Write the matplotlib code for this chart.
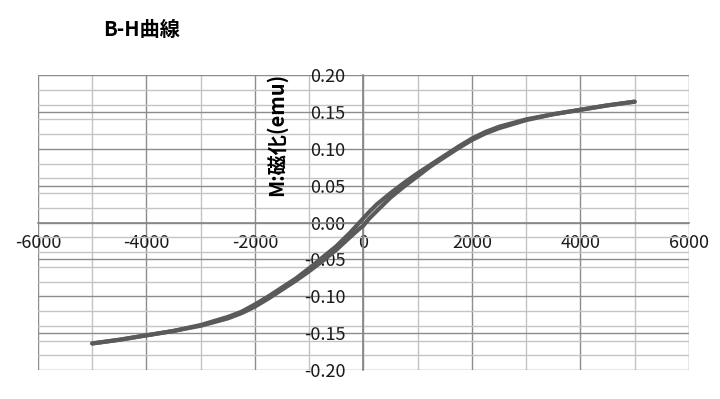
import matplotlib
matplotlib.use("Agg")
import matplotlib.pyplot as plt
from matplotlib.ticker import MultipleLocator, FormatStrFormatter

plt.rcParams["font.family"] = ["Noto Sans CJK JP", "DejaVu Sans"]
plt.rcParams["axes.unicode_minus"] = False

# Upper branch (H swept from +5000 down to -5000)
h_down = [5000, 4500, 4000, 3500, 3000, 2500, 2250, 2000, 1750, 1500, 1250, 1000, 750, 500,
          250, 100, 0, -100, -250, -500, -750, -1000, -1250, -1500, -1750, -2000, -2250,
          -2500, -3000, -3500, -4000, -4500, -5000]
m_down = [0.164, 0.159, 0.153, 0.147, 0.140, 0.130, 0.123, 0.114, 0.103, 0.091, 0.079, 0.067,
          0.054, 0.040, 0.025, 0.014, 0.006, -0.002, -0.014, -0.032, -0.047, -0.062, -0.076,
          -0.088, -0.100, -0.111, -0.121, -0.128, -0.139, -0.147, -0.153, -0.159, -0.164]
# Lower branch (H swept from -5000 back up to +5000)
h_up = [-5000, -4500, -4000, -3500, -3000, -2500, -2250, -2000, -1750, -1500, -1250, -1000,
        -750, -500, -250, -100, 0, 100, 250, 500, 750, 1000, 1250, 1500, 1750, 2000, 2250,
        2500, 3000, 3500, 4000, 4500, 5000]
m_up = [-0.164, -0.159, -0.153, -0.147, -0.140, -0.130, -0.123, -0.114, -0.103, -0.091, -0.079,
        -0.066, -0.052, -0.037, -0.020, -0.010, -0.004, 0.005, 0.016, 0.034, 0.049, 0.063,
        0.077, 0.089, 0.101, 0.112, 0.121, 0.128, 0.139, 0.147, 0.153, 0.159, 0.164]

fig = plt.figure(figsize=(7.2, 3.99), dpi=100)
ax = fig.add_axes([0.0528, 0.0727, 0.904, 0.739])

ax.plot(h_down, m_down, color="#5a5a5a", linewidth=3.0, solid_capstyle="round", zorder=3)
ax.plot(h_up, m_up, color="#5a5a5a", linewidth=3.0, solid_capstyle="round", zorder=3)

ax.set_xlim(-6000, 6000)
ax.set_ylim(-0.20, 0.20)
ax.xaxis.set_major_locator(MultipleLocator(2000))
ax.xaxis.set_minor_locator(MultipleLocator(1000))
ax.yaxis.set_major_locator(MultipleLocator(0.05))
ax.yaxis.set_minor_locator(MultipleLocator(0.02))
ax.yaxis.set_major_formatter(FormatStrFormatter("%.2f"))

ax.grid(which="major", color="#8c8c8c", linewidth=1.0)
ax.grid(which="minor", color="#c4c4c4", linewidth=1.0)
ax.set_axisbelow(True)

# axes cross at the origin like the spreadsheet chart
ax.spines["left"].set_position(("data", 0))
ax.spines["bottom"].set_position(("data", 0))
ax.spines["right"].set_visible(False)
ax.spines["top"].set_visible(False)
for s in ("left", "bottom"):
    ax.spines[s].set_color("#868686")
    ax.spines[s].set_linewidth(1.2)

ax.tick_params(which="both", length=0)
ax.tick_params(axis="y", pad=13, labelsize=13, labelcolor="#1a1a1a")
ax.tick_params(axis="x", pad=8, labelsize=13, labelcolor="#1a1a1a")

ax.set_ylabel("M:磁化(emu)", fontsize=14.5, fontweight="bold", labelpad=0)
ax.yaxis.set_label_coords(-1400, 0.120, transform=ax.transData)

fig.text(0.143, 0.925, "B-H曲線", fontsize=14.5, fontweight="bold",
         ha="left", va="center")

fig.savefig("out.png", dpi=100)
